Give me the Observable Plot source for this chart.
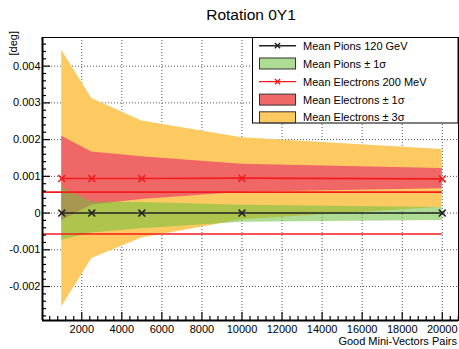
<!DOCTYPE html>
<html><head><meta charset="utf-8">
<script src="https://cdn.jsdelivr.net/npm/d3@7"></script>
<script src="https://cdn.jsdelivr.net/npm/@observablehq/plot@0.6"></script>
<style>
body{margin:0;background:#fff;}
#wrap{position:relative;width:459px;height:349px;font-family:"Liberation Sans",Arial,Helvetica,sans-serif;}
#wrap svg{position:absolute;left:0;top:0;}
</style></head>
<body><div id="wrap"></div>
<script>
// ---- data ----
const pairs = [1000, 2500, 5000, 10000, 20000];
const pionMean = [0, 0, 0, 0, 0];
const pionLo = [-0.00074, -0.00054, -0.00043, -0.00025, -0.00020];
const pionHi = [0.00071, 0.00030, 0.00029, 0.00021, 0.00015];
const elecMean = [0.00094, 0.00094, 0.00094, 0.00095, 0.00093];
const elec1Lo = [-0.00021, 0.00022, 0.00037, 0.00057, 0.00066];
const elec1Hi = [0.00209, 0.00166, 0.00153, 0.00133, 0.00121];
const elec3Lo = [-0.00256, -0.00124, -0.00068, -0.00018, 0.00016];
const elec3Hi = [0.00443, 0.00312, 0.00251, 0.00205, 0.00173];
const thresholds = [0.00057, -0.00057];

const xTicks = [2000, 4000, 6000, 8000, 10000, 12000, 14000, 16000, 18000, 20000];
const yTicks = [-0.002, -0.001, 0, 0.001, 0.002, 0.003, 0.004];
const yTickLabels = ["-0.002", "-0.001", "0", "0.001", "0.002", "0.003", "0.004"];

const title = "Rotation 0Y1";
const xTitle = "Good Mini-Vectors Pairs";
const yTitle = "[deg]";
const legendLabels = ["Mean Pions 120 GeV", "Mean Pions \u00b1 1\u03c3", "Mean Electrons 200 MeV", "Mean Electrons \u00b1 1\u03c3", "Mean Electrons \u00b1 3\u03c3"];

// ---- styling / layout ----
const W = 459, H = 349, mL = 42, mR = 1, mT = 37, mB = 29;
const fw = W - mL - mR, fh = H - mT - mB;
const xDomain = [40, 20810], yDomain = [-0.002925, 0.00478];
const cOrange = "#fdca62", cRed = "#f06767", cRedLine = "#f21c1c", cGreen = "#6cbf3c", greenOpacity = 0.55;

const rows = pairs.map((x, i) => ({x, pm: pionMean[i], plo: pionLo[i], phi: pionHi[i],
  em: elecMean[i], e1lo: elec1Lo[i], e1hi: elec1Hi[i], e3lo: elec3Lo[i], e3hi: elec3Hi[i]}));
const thrRows = thresholds.map(y => ({y, x1: xDomain[0], x2: pairs[pairs.length - 1]}));

const xMinor = d3.range(400, xDomain[1], 400).filter(v => v % 2000 !== 0);
const yMinor = d3.range(-14, 24).filter(i => i % 5 !== 0).map(i => i * 0.0002);

const grid = {stroke: "#555", strokeDasharray: "1,2", strokeWidth: 1};

const svg = Plot.plot({
  width: W, height: H, marginLeft: mL, marginRight: mR, marginTop: mT, marginBottom: mB,
  x: {domain: xDomain},
  y: {domain: yDomain},
  style: {fontFamily: '"Liberation Sans", Arial, sans-serif', fontSize: "11px", background: "transparent", color: "#000"},
  marks: [
    Plot.ruleX(xTicks, grid),
    Plot.ruleY(yTicks, grid),
    Plot.areaY(rows, {x: "x", y1: "e3lo", y2: "e3hi", fill: cOrange}),
    Plot.areaY(rows, {x: "x", y1: "e1lo", y2: "e1hi", fill: cRed}),
    Plot.areaY(rows, {x: "x", y1: "plo", y2: "phi", fill: cGreen, fillOpacity: greenOpacity}),
    Plot.ruleY(thrRows, {y: "y", x1: "x1", x2: "x2", stroke: cRedLine, strokeWidth: 1.6}),
    Plot.line(rows, {x: "x", y: "em", stroke: cRedLine, strokeWidth: 1.6}),
    Plot.dot(rows, {x: "x", y: "em", symbol: "times", r: 3.2, stroke: cRedLine, strokeWidth: 1.6}),
    Plot.line(rows, {x: "x", y: "pm", stroke: "#222", strokeWidth: 1.5}),
    Plot.dot(rows, {x: "x", y: "pm", symbol: "times", r: 3.2, stroke: "#222", strokeWidth: 1.6}),
    Plot.tickY(yTicks, {insetRight: fw - 8, stroke: "#000", strokeWidth: 1.2}),
    Plot.tickY(yMinor, {insetRight: fw - 4, stroke: "#000", strokeWidth: 1.2}),
    Plot.tickX(xTicks, {insetTop: fh - 8, stroke: "#000", strokeWidth: 1.2}),
    Plot.tickX(xMinor, {insetTop: fh - 4, stroke: "#000", strokeWidth: 1.2}),
    Plot.frame({stroke: "#000", strokeWidth: 1}),
    Plot.ruleX([xDomain[0]], {stroke: "#000", strokeWidth: 2}),
    Plot.ruleY([yDomain[0]], {stroke: "#000", strokeWidth: 2}),
    Plot.axisX(xTicks, {tickSize: 0, tickPadding: 5, label: null, tickFormat: d3.format("d")}),
    Plot.axisY(yTicks, {tickSize: 0, tickPadding: 2, label: null, tickFormat: d => yTickLabels[yTicks.indexOf(d)]})
  ]
});
document.getElementById("wrap").appendChild(svg);

// ---- overlay: title, axis titles, legend ----
const ov = d3.select("#wrap").append("svg").attr("width", W).attr("height", H)
  .style("font-family", '"Liberation Sans", Arial, sans-serif');
ov.append("text").attr("x", 251).attr("y", 20).attr("text-anchor", "middle").attr("font-size", 15.5).text(title);
ov.append("text").attr("x", 457).attr("y", 344.5).attr("text-anchor", "end").attr("font-size", 11).text(xTitle);
ov.append("text").attr("transform", "translate(16.5,31) rotate(-90)").attr("text-anchor", "end").attr("font-size", 11).text(yTitle);

const lg = ov.append("g").attr("transform", "translate(252,37)");
lg.append("rect").attr("x", 0.5).attr("y", 0.5).attr("width", 205.5).attr("height", 85.5).attr("fill", "#fff").attr("stroke", "#000");
const rowY = [8.7, 26.5, 44.6, 62.6, 80.3];
const kinds = [
  {type: "line", color: "#222"},
  {type: "box", fill: cGreen, op: greenOpacity},
  {type: "line", color: cRedLine},
  {type: "box", fill: cRed, op: 1},
  {type: "box", fill: cOrange, op: 1}
];
kinds.forEach((k, i) => {
  const cy = rowY[i];
  if (k.type === "line") {
    lg.append("line").attr("x1", 7).attr("x2", 44).attr("y1", cy).attr("y2", cy).attr("stroke", k.color).attr("stroke-width", 1.4);
    const s = 2.6, cx = 25.5;
    lg.append("path").attr("d", `M${cx - s},${cy - s}L${cx + s},${cy + s}M${cx - s},${cy + s}L${cx + s},${cy - s}`).attr("stroke", k.color).attr("stroke-width", 1.4);
  } else {
    lg.append("rect").attr("x", 7.5).attr("y", cy - 5.5).attr("width", 36).attr("height", 11).attr("fill", k.fill).attr("fill-opacity", k.op);
    lg.append("rect").attr("x", 7.5).attr("y", cy - 5.5).attr("width", 36).attr("height", 11).attr("fill", "none").attr("stroke", "#333").attr("stroke-width", 1);
  }
  lg.append("text").attr("x", 51).attr("y", cy + 4).attr("font-size", 11).text(legendLabels[i]);
});
</script>
</body></html>
